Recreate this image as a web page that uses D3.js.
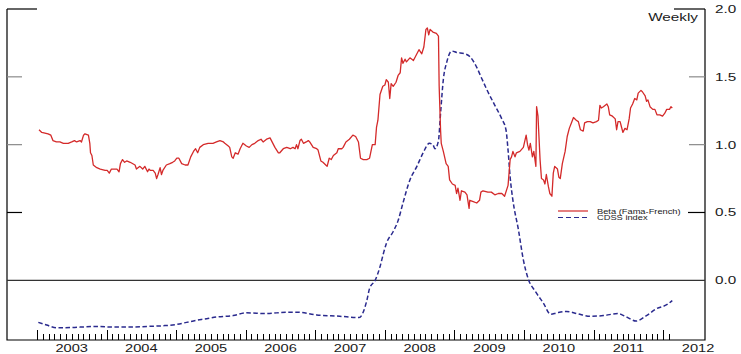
<!DOCTYPE html>
<html>
<head>
<meta charset="utf-8">
<script src="https://d3js.org/d3.v7.min.js"></script>
<style type="text/css">
    body { margin: 0; background: #fff; }
    text { font-family: "Liberation Sans", Arial, sans-serif; fill: #1a1a1a; }
</style>
</head>
<body>
<div id="chart"></div>
<script type="text/javascript">
// weekly readings, [decimal year, value]
var beta = [[2003.03,1.11],[2003.07,1.09],[2003.16,1.08],[2003.20,1.07],[2003.23,1.03],[2003.28,1.02],[2003.33,1.02],[2003.38,1.01],[2003.45,1.01],[2003.50,1.02],[2003.54,1.03],[2003.57,1.02],[2003.62,1.03],[2003.64,1.02],[2003.67,1.07],[2003.69,1.08],[2003.74,1.07],[2003.76,1.01],[2003.77,0.94],[2003.79,0.92],[2003.81,0.85],[2003.86,0.83],[2003.91,0.82],[2003.98,0.81],[2004.01,0.81],[2004.04,0.79],[2004.07,0.82],[2004.12,0.82],[2004.15,0.82],[2004.18,0.80],[2004.20,0.86],[2004.23,0.89],[2004.26,0.87],[2004.29,0.88],[2004.34,0.87],[2004.41,0.85],[2004.43,0.82],[2004.48,0.84],[2004.52,0.82],[2004.55,0.84],[2004.59,0.80],[2004.61,0.82],[2004.63,0.81],[2004.67,0.81],[2004.70,0.79],[2004.72,0.75],[2004.74,0.78],[2004.77,0.83],[2004.79,0.78],[2004.81,0.81],[2004.86,0.85],[2004.91,0.86],[2004.95,0.87],[2004.98,0.88],[2005.01,0.90],[2005.04,0.90],[2005.08,0.86],[2005.13,0.85],[2005.17,0.85],[2005.21,0.91],[2005.25,0.95],[2005.28,0.97],[2005.31,0.94],[2005.34,0.98],[2005.39,1.00],[2005.46,1.01],[2005.53,1.01],[2005.58,1.02],[2005.63,1.03],[2005.68,1.02],[2005.70,1.01],[2005.75,0.99],[2005.77,0.98],[2005.80,0.91],[2005.82,0.90],[2005.85,0.94],[2005.89,0.93],[2005.92,0.97],[2005.96,1.01],[2006.01,0.99],[2006.05,0.98],[2006.09,1.00],[2006.13,1.01],[2006.18,1.03],[2006.22,1.04],[2006.25,1.02],[2006.30,1.04],[2006.35,1.05],[2006.37,1.03],[2006.42,0.98],[2006.47,0.94],[2006.49,0.94],[2006.54,0.97],[2006.59,0.98],[2006.64,0.97],[2006.68,0.98],[2006.71,0.97],[2006.73,1.00],[2006.75,0.97],[2006.78,1.03],[2006.80,1.04],[2006.83,1.01],[2006.87,1.02],[2006.90,1.03],[2006.92,1.02],[2006.97,0.98],[2007.02,0.97],[2007.04,0.96],[2007.08,0.88],[2007.11,0.87],[2007.15,0.85],[2007.17,0.84],[2007.20,0.90],[2007.23,0.89],[2007.26,0.92],[2007.31,0.94],[2007.33,0.97],[2007.38,0.97],[2007.40,0.98],[2007.44,1.02],[2007.49,1.04],[2007.54,1.07],[2007.58,1.06],[2007.62,1.02],[2007.65,0.90],[2007.69,0.89],[2007.74,0.89],[2007.78,0.90],[2007.82,1.00],[2007.86,1.00],[2007.88,1.13],[2007.90,1.18],[2007.93,1.37],[2007.97,1.43],[2008.00,1.44],[2008.02,1.48],[2008.05,1.46],[2008.07,1.34],[2008.09,1.45],[2008.12,1.43],[2008.16,1.46],[2008.19,1.51],[2008.22,1.53],[2008.24,1.64],[2008.26,1.60],[2008.29,1.63],[2008.31,1.61],[2008.36,1.64],[2008.41,1.62],[2008.46,1.67],[2008.49,1.70],[2008.53,1.67],[2008.56,1.72],[2008.59,1.85],[2008.61,1.86],[2008.63,1.81],[2008.65,1.85],[2008.69,1.83],[2008.74,1.82],[2008.77,1.80],[2008.78,1.43],[2008.80,1.11],[2008.81,1.01],[2008.84,0.95],[2008.88,0.86],[2008.91,0.84],[2008.93,0.74],[2008.97,0.71],[2009.01,0.70],[2009.03,0.64],[2009.05,0.68],[2009.08,0.59],[2009.10,0.66],[2009.15,0.65],[2009.18,0.63],[2009.21,0.53],[2009.22,0.59],[2009.27,0.58],[2009.32,0.57],[2009.36,0.59],[2009.38,0.65],[2009.41,0.66],[2009.48,0.65],[2009.53,0.65],[2009.58,0.63],[2009.63,0.64],[2009.68,0.64],[2009.72,0.62],[2009.77,0.70],[2009.80,0.89],[2009.82,0.91],[2009.84,0.95],[2009.87,0.91],[2009.89,0.94],[2009.94,0.95],[2009.99,0.98],[2010.03,1.07],[2010.05,1.00],[2010.07,0.96],[2010.09,1.01],[2010.12,0.91],[2010.14,0.95],[2010.17,0.84],[2010.18,1.28],[2010.20,1.21],[2010.23,0.89],[2010.25,0.75],[2010.28,0.74],[2010.30,0.71],[2010.32,0.78],[2010.35,0.69],[2010.37,0.64],[2010.40,0.62],[2010.42,0.79],[2010.44,0.84],[2010.48,0.82],[2010.50,0.76],[2010.52,0.75],[2010.55,0.86],[2010.59,0.95],[2010.62,1.06],[2010.65,1.12],[2010.68,1.16],[2010.71,1.20],[2010.75,1.18],[2010.78,1.17],[2010.81,1.11],[2010.85,1.10],[2010.87,1.16],[2010.91,1.17],[2010.95,1.17],[2010.99,1.16],[2011.04,1.17],[2011.07,1.18],[2011.09,1.29],[2011.11,1.27],[2011.14,1.28],[2011.19,1.30],[2011.21,1.28],[2011.23,1.22],[2011.27,1.21],[2011.31,1.19],[2011.33,1.11],[2011.35,1.17],[2011.38,1.17],[2011.40,1.13],[2011.42,1.09],[2011.45,1.12],[2011.48,1.11],[2011.51,1.19],[2011.53,1.27],[2011.56,1.30],[2011.59,1.34],[2011.62,1.33],[2011.64,1.38],[2011.68,1.40],[2011.70,1.39],[2011.74,1.36],[2011.76,1.32],[2011.78,1.33],[2011.81,1.28],[2011.85,1.26],[2011.88,1.26],[2011.91,1.22],[2011.95,1.22],[2011.99,1.21],[2012.02,1.23],[2012.05,1.26],[2012.09,1.26],[2012.11,1.28],[2012.13,1.27]];

var cdss = [[2003.02,-0.31],[2003.14,-0.33],[2003.28,-0.35],[2003.38,-0.35],[2003.62,-0.345],[2003.86,-0.34],[2004.10,-0.345],[2004.34,-0.345],[2004.58,-0.34],[2004.81,-0.335],[2005.01,-0.325],[2005.15,-0.31],[2005.29,-0.295],[2005.41,-0.285],[2005.58,-0.27],[2005.82,-0.26],[2006.01,-0.24],[2006.30,-0.245],[2006.59,-0.235],[2006.73,-0.235],[2007.02,-0.255],[2007.35,-0.265],[2007.63,-0.275],[2007.74,-0.15],[2007.78,-0.06],[2007.86,0.0],[2007.93,0.10],[2007.98,0.20],[2008.02,0.27],[2008.12,0.36],[2008.19,0.44],[2008.26,0.57],[2008.36,0.74],[2008.46,0.84],[2008.55,0.94],[2008.64,1.01],[2008.69,1.00],[2008.72,0.97],[2008.77,1.03],[2008.80,1.23],[2008.84,1.48],[2008.89,1.61],[2008.96,1.69],[2009.03,1.68],[2009.15,1.67],[2009.22,1.65],[2009.32,1.57],[2009.39,1.49],[2009.48,1.39],[2009.58,1.29],[2009.68,1.19],[2009.74,1.11],[2009.77,0.96],[2009.80,0.76],[2009.84,0.59],[2009.92,0.37],[2009.99,0.15],[2010.06,0.01],[2010.16,-0.08],[2010.28,-0.17],[2010.38,-0.25],[2010.47,-0.24],[2010.61,-0.23],[2010.76,-0.245],[2010.95,-0.265],[2011.14,-0.26],[2011.35,-0.245],[2011.47,-0.27],[2011.61,-0.30],[2011.76,-0.26],[2011.90,-0.21],[2012.05,-0.18],[2012.13,-0.15]];

var years = [2003,2004,2005,2006,2007,2008,2009,2010,2011,2012];
var yTicks = [0.0,0.5,1.0,1.5,2.0];
var seriesNames = ['Beta (Fama-French)','CDSS index'];

(function(){
    var width = 741, height = 354;
    var pl = 7, pr = 705, pt = 9, pb = 340;
    var sx = 1.33; // the original is stretched sideways

    var x = d3.scaleLinear().domain([2002.57, 2012.6]).range([pl, pr]);
    var y = d3.scaleLinear().domain([-0.44, 2.0]).range([pb, pt]);

    var svg = d3.select('#chart').append('svg')
        .attr('width', width)
        .attr('height', height);

    function label(txt, px, py, anchor, size) {
        return svg.append('text')
            .attr('transform', 'translate(' + px + ',' + py + ') scale(' + sx + ',1)')
            .attr('text-anchor', anchor)
            .style('font-size', size + 'px')
            .text(txt);
    }

    // frame
    svg.append('path')
        .attr('d', 'M' + pl + ',' + pt + 'V' + pb + 'H' + pr + 'V' + pt)
        .attr('fill', 'none').attr('stroke', '#000').attr('stroke-width', 1.2);

    // zero line
    svg.append('line')
        .attr('x1', pl).attr('x2', pr)
        .attr('y1', y(0)).attr('y2', y(0))
        .attr('stroke', '#333').attr('stroke-width', 1.2);

    // y ticks on both sides
    yTicks.filter(function(d){ return d > 0; }).forEach(function(d){
        var len = d === 2.0 ? 30 : 15;
        var col = (d === 1.0 || d === 1.5) ? '#8a8a8a' : '#000';
        svg.append('line').attr('x1', pl).attr('x2', pl + len)
            .attr('y1', y(d)).attr('y2', y(d)).attr('stroke', col).attr('stroke-width', 1.2);
        svg.append('line').attr('x1', pr - len - (d === 0.5 ? 2 : 1)).attr('x2', pr)
            .attr('y1', y(d)).attr('y2', y(d)).attr('stroke', col).attr('stroke-width', 1.2);
    });
    yTicks.forEach(function(d){
        label(d.toFixed(1), 715, y(d) + 4, 'start', 11.5);
    });

    // month ticks along the bottom
    var months = d3.range(0, 110).map(function(i){ return 2003 + i / 12; });
    svg.selectAll('line.mtick').data(months).enter().append('line')
        .attr('class', 'mtick')
        .attr('x1', function(d){ return Math.round(x(d)) + 0.5; })
        .attr('x2', function(d){ return Math.round(x(d)) + 0.5; })
        .attr('y1', pb)
        .attr('y2', function(d, i){ return i % 12 === 0 ? pb - 10 : pb - 6; })
        .attr('stroke', '#000').attr('stroke-width', 1);

    years.forEach(function(yr){
        label(String(yr), x(yr + 0.5), 351.5, 'middle', 11);
    });

    label('Weekly', 698, 20.5, 'end', 11.5);

    // series
    var line = d3.line()
        .x(function(d){ return x(d[0]); })
        .y(function(d){ return y(d[1]); });

    svg.append('path').datum(cdss)
        .attr('d', line.curve(d3.curveMonotoneX))
        .attr('fill', 'none')
        .attr('stroke', '#2a2a8e')
        .attr('stroke-width', 1.5)
        .attr('stroke-dasharray', '4.5,2.5');

    svg.append('path').datum(beta)
        .attr('d', line.curve(d3.curveLinear))
        .attr('fill', 'none')
        .attr('stroke', '#d42a2a')
        .attr('stroke-width', 1.3)
        .attr('stroke-linejoin', 'round');

    // legend
    var lg = [{y: 211, col: '#d42a2a', dash: null}, {y: 217.5, col: '#2a2a8e', dash: '5,3'}];
    lg.forEach(function(d, i){
        svg.append('line').attr('x1', 558).attr('x2', 588)
            .attr('y1', d.y).attr('y2', d.y)
            .attr('stroke', d.col).attr('stroke-width', 1.2)
            .attr('stroke-dasharray', d.dash);
        label(seriesNames[i], 597, d.y + 2.6, 'start', 7);
    });
})();
</script>
</body>
</html>
